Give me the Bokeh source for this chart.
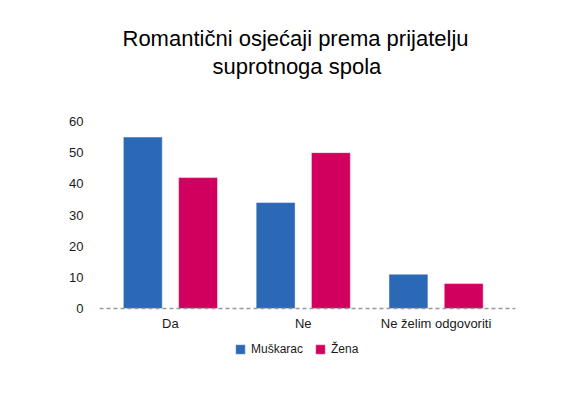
from bokeh.plotting import figure
from bokeh.models import Range1d, Title, Legend, LegendItem, FixedTicker, ColumnDataSource
from bokeh.embed import file_html
from bokeh.resources import INLINE
from bokeh.transform import dodge

categories = ["Da", "Ne", "Ne želim odgovoriti"]
muskarac = [55, 34, 11]
zena = [42, 50, 8]
y_ticks = [0, 10, 20, 30, 40, 50, 60]
title_lines = ["Romantični osjećaji prema prijatelju", "suprotnoga spola"]
series_names = ["Muškarac", "Žena"]
colors = ["#2B68B6", "#D1005E"]

FONT = "Liberation Sans"

xs = list(range(len(categories)))
src = ColumnDataSource(data=dict(x=xs, m=muskarac, z=zena))

# frame extends below zero so that the legend sits inside it (not clipped)
p = figure(width=567, height=382, output_backend="svg", toolbar_location=None,
           x_range=Range1d(-0.534, 2.598), y_range=Range1d(-19.89, 60))
p.min_border_left = 99
p.min_border_right = 52
p.min_border_top = 121
p.min_border_bottom = 12
p.outline_line_color = None
p.background_fill_color = "white"
p.border_fill_color = "white"
p.xgrid.visible = False
p.ygrid.visible = False

r1 = p.vbar(x=dodge("x", -0.208), top="m", bottom=0, width=0.293, source=src,
            fill_color=colors[0], line_color="white", line_alpha=0.45, line_width=1)
r2 = p.vbar(x=dodge("x", 0.208), top="z", bottom=0, width=0.293, source=src,
            fill_color=colors[1], line_color="white", line_alpha=0.45, line_width=1)

# y axis
p.yaxis.ticker = FixedTicker(ticks=y_ticks)
p.yaxis.axis_line_color = None
p.yaxis.major_tick_line_color = None
p.yaxis.minor_tick_line_color = None
p.yaxis.major_label_standoff = 10
p.yaxis.major_label_text_font = FONT
p.yaxis.major_label_text_font_size = "13px"
p.yaxis.major_label_text_color = "#1a1a1a"

# x axis, placed at y = 0
p.xaxis.fixed_location = 0
p.xaxis.ticker = FixedTicker(ticks=xs)
p.xaxis.major_label_overrides = {i: c for i, c in zip(xs, categories)}
p.xaxis.axis_line_color = "#999999"
p.xaxis.axis_line_dash = "4 3"
p.xaxis.axis_line_width = 1.5
p.xaxis.major_tick_line_color = None
p.xaxis.minor_tick_line_color = None
p.xaxis.major_label_standoff = 1
p.xaxis.major_label_text_font = FONT
p.xaxis.major_label_text_font_size = "13px"
p.xaxis.major_label_text_color = "#1a1a1a"

# title lines (spacer nearest the frame, then line 2, then line 1)
spacer = Title(text=" ", text_font_size="1px", standoff=40, text_color="white")
t2 = Title(text=title_lines[1], align="left", offset=113, standoff=0,
           text_font=FONT, text_font_size="22px", text_font_style="normal",
           text_color="#000000")
t1 = Title(text=title_lines[0], align="left", offset=23, standoff=2,
           text_font=FONT, text_font_size="22px", text_font_style="normal",
           text_color="#000000")
p.add_layout(spacer, "above")
p.add_layout(t2, "above")
p.add_layout(t1, "above")

legend = Legend(items=[LegendItem(label=series_names[0], renderers=[r1]),
                       LegendItem(label=series_names[1], renderers=[r2])],
                orientation="horizontal", location=(135, 14),
                glyph_width=12, glyph_height=12, label_standoff=5, spacing=11,
                label_width=0, padding=0, margin=0, border_line_color=None,
                background_fill_alpha=0,
                label_text_font=FONT, label_text_font_size="12px",
                label_text_color="#1a1a1a")
p.add_layout(legend)

open("out.html", "w").write(file_html(p, INLINE))
